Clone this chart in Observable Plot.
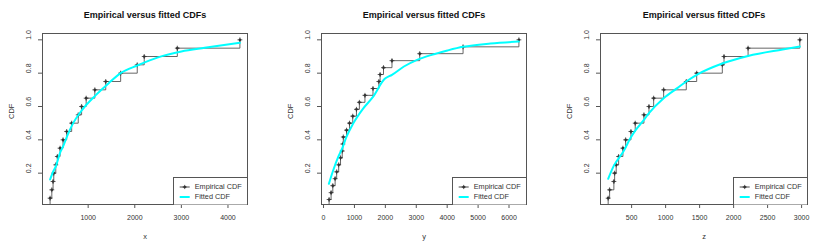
<!DOCTYPE html>
<html><head><meta charset="utf-8">
<script src="https://cdn.jsdelivr.net/npm/d3@7"></script>
<script src="https://cdn.jsdelivr.net/npm/@observablehq/plot@0.6"></script>
<style>
body{margin:0;background:#fff;}
#wrap{position:relative;width:822px;height:246px;display:flex;}
.panel{position:relative;width:274px;height:246px;}
.legend{position:absolute;}
</style></head><body><div id="wrap"></div>
<script>
const title = "Empirical versus fitted CDFs";
const yTicks = [0.2, 0.4, 0.6, 0.8, 1.0];
const legendLabels = ["Empirical CDF", "Fitted CDF"];

// Panel x
const xObs = [183, 220, 247, 262, 305, 339, 397, 461, 539, 646, 787, 859, 957, 1143, 1377, 1697, 2053, 2203, 2913, 4256];
const xCdf = [0.05, 0.10, 0.15, 0.20, 0.25, 0.30, 0.35, 0.40, 0.45, 0.50, 0.55, 0.60, 0.65, 0.70, 0.75, 0.80, 0.85, 0.90, 0.95, 1.00];
const xFitX = [183, 250, 305, 400, 461, 560, 659, 872, 1158, 1441, 1697, 2053, 2500, 3000, 3500, 4256];
const xFitF = [0.162, 0.21, 0.24, 0.325, 0.36, 0.43, 0.49, 0.58, 0.667, 0.74, 0.80, 0.846, 0.895, 0.93, 0.952, 0.982];
const xTicks = [1000, 2000, 3000, 4000];

// Panel y
const yObs = [180, 245, 300, 375, 425, 490, 550, 605, 625, 640, 745, 840, 945, 1065, 1160, 1340, 1600, 1790, 1830, 1940, 2214, 3112, 4514, 6320];
const yCdf = [0.042, 0.083, 0.125, 0.167, 0.208, 0.25, 0.292, 0.333, 0.375, 0.417, 0.458, 0.5, 0.542, 0.583, 0.625, 0.667, 0.708, 0.75, 0.792, 0.833, 0.875, 0.917, 0.958, 1.0];
const yFitX = [173, 300, 472, 610, 738, 953, 1274, 1594, 1980, 2214, 2600, 3028, 3500, 4010, 4514, 5400, 6320];
const yFitF = [0.136, 0.21, 0.296, 0.352, 0.416, 0.496, 0.586, 0.656, 0.766, 0.79, 0.84, 0.88, 0.91, 0.936, 0.958, 0.978, 0.99];
const yAxisTicks = [0, 1000, 2000, 3000, 4000, 5000, 6000];

// Panel z
const zObs = [155, 176, 239, 250, 273, 309, 372, 412, 490, 553, 681, 755, 824, 971, 1304, 1457, 1834, 1859, 2213, 2974];
const zCdf = [0.05, 0.10, 0.15, 0.20, 0.25, 0.30, 0.35, 0.40, 0.45, 0.50, 0.55, 0.60, 0.65, 0.70, 0.75, 0.80, 0.85, 0.90, 0.95, 1.00];
const zFitX = [155, 239, 372, 490, 553, 681, 755, 971, 1177, 1304, 1457, 1834, 2213, 2720, 2974];
const zFitF = [0.166, 0.245, 0.325, 0.415, 0.455, 0.52, 0.56, 0.65, 0.712, 0.75, 0.79, 0.858, 0.903, 0.942, 0.96];
const zTicks = [500, 1000, 1500, 2000, 2500, 3000];

const FONT = "'Liberation Sans', Arial, sans-serif";
const INK = "#333";

function panel({obs, cdf, fitX, fitF, ticks, label, mL, mR}) {
  const W = 274, H = 246, mT = 33, mB = 42;
  const lo = d3.min(obs), hi = d3.max(obs), ext = (hi - lo) * 0.04;
  const pts = obs.map((x, i) => ({x, F: cdf[i]}));
  const steps = [{x: obs[0], F: 0}, ...pts];
  const fit = fitX.map((x, i) => ({x, F: fitF[i]}));
  const svg = Plot.plot({
    width: W, height: H, marginLeft: mL, marginRight: mR, marginTop: mT, marginBottom: mB,
    style: {fontFamily: FONT, fontSize: "7px", color: INK, background: "#fff", overflow: "visible"},
    x: {domain: [lo - ext, hi + ext]},
    y: {domain: [0.012, 1.038]},
    marks: [
      Plot.line(steps, {x: "x", y: "F", curve: "step-after", stroke: "#555", strokeWidth: 0.9, clip: true}),
      Plot.dot(pts, {x: "x", y: "F", r: 1.3, fill: "#333"}),
      Plot.dot(pts, {x: "x", y: "F", symbol: "plus", r: 1.7, stroke: "#333", strokeWidth: 0.8}),
      Plot.line(fit, {x: "x", y: "F", curve: "monotone-x", stroke: "#00FFFF", strokeWidth: 2}),
      Plot.frame({stroke: "#555"}),
      Plot.axisX({ticks, tickSize: 4, tickPadding: 7, label: null, tickFormat: d => String(d), stroke: "#555", fill: INK}),
      Plot.axisY({ticks: yTicks, tickSize: 4, label: null, tickFormat: () => "", stroke: "#555"}),
      Plot.text(yTicks, {y: d => d, frameAnchor: "left", lineAnchor: "middle", dx: -13.7, rotate: -90, text: d => d.toFixed(1), fontSize: 7, fill: INK}),
      Plot.text([label], {frameAnchor: "bottom", lineAnchor: "middle", dy: 32, fontSize: 7.5, fill: INK}),
      Plot.text(["CDF"], {frameAnchor: "left", lineAnchor: "middle", dx: -31, rotate: -90, fontSize: 7.5, fill: INK}),
      Plot.text([title], {frameAnchor: "top", lineAnchor: "middle", dy: -18, fontSize: 9, fontWeight: "bold", fill: "#111"})
    ]
  });
  const div = document.createElement("div");
  div.className = "panel";
  div.appendChild(svg);
  const lw = 74, lh = 27.5;
  const lg = document.createElement("div");
  lg.className = "legend";
  lg.style.left = (W - mR - lw) + "px";
  lg.style.top = (H - mB - lh) + "px";
  lg.innerHTML = `<svg width="${lw + 1}" height="${lh + 1}" style="display:block;font-family:${FONT.replace(/'/g, "")}">
    <rect x="0.5" y="0.5" width="${lw}" height="${lh}" fill="#fff" stroke="#555"/>
    <line x1="6.7" x2="16.7" y1="10" y2="10" stroke="#333" stroke-width="0.9"/>
    <circle cx="11.7" cy="10" r="1.3" fill="#333"/>
    <path d="M11.7,7.9V12.1M9.6,10H13.8" stroke="#333" stroke-width="0.8"/>
    <text x="21.7" y="10" dy="0.32em" font-size="7.3" fill="${INK}">${legendLabels[0]}</text>
    <line x1="6.7" x2="16.7" y1="20" y2="20" stroke="#00FFFF" stroke-width="2"/>
    <text x="21.7" y="20" dy="0.32em" font-size="7.3" fill="${INK}">${legendLabels[1]}</text>
  </svg>`;
  div.appendChild(lg);
  return div;
}

const wrap = document.getElementById("wrap");
wrap.appendChild(panel({obs: xObs, cdf: xCdf, fitX: xFitX, fitF: xFitF, ticks: xTicks, label: "x", mL: 42, mR: 27}));
wrap.appendChild(panel({obs: yObs, cdf: yCdf, fitX: yFitX, fitF: yFitF, ticks: yAxisTicks, label: "y", mL: 47, mR: 22}));
wrap.appendChild(panel({obs: zObs, cdf: zCdf, fitX: zFitX, fitF: zFitF, ticks: zTicks, label: "z", mL: 52, mR: 15}));
</script></body></html>
